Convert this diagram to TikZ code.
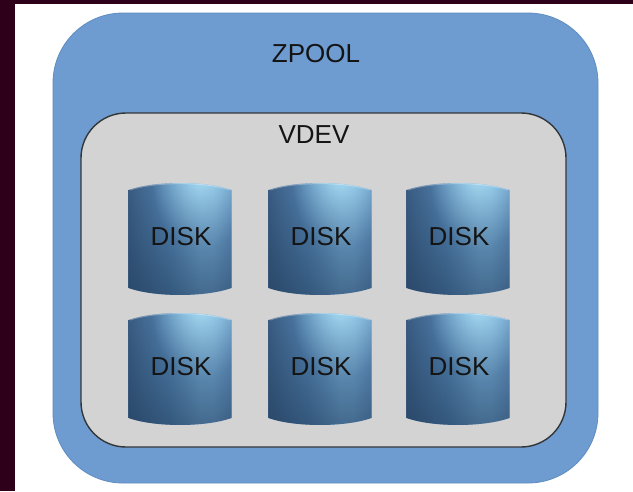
\documentclass[tikz,border=0pt]{standalone}
\usepackage{fontspec}
\setmainfont{Liberation Sans}
\usetikzlibrary{fadings}
\definecolor{framecol}{HTML}{2E0019}
\definecolor{poolblue}{HTML}{6E9CD0}
\definecolor{pooledge}{HTML}{5F8DC2}
\definecolor{vdevgray}{HTML}{D3D3D3}
\definecolor{vdevedge}{HTML}{333638}
\definecolor{dk1}{HTML}{3B5D83}
\definecolor{md1}{HTML}{5282B0}
\definecolor{hl}{HTML}{78AEDA}
\definecolor{md2}{HTML}{6393C2}
\definecolor{glowcol}{HTML}{A8DDF4}
\definecolor{diskbot}{HTML}{1F3A58}
\definecolor{txt}{HTML}{141414}
\pgfdeclarehorizontalshading{diskh}{100bp}{color(0bp)=(dk1); color(25bp)=(dk1); color(44bp)=(md1); color(60bp)=(hl); color(66bp)=(hl); color(75bp)=(md2); color(100bp)=(md2)}
\tikzfading[name=diskfade, top color=transparent!100, middle color=transparent!85, bottom color=transparent!0]
\tikzfading[name=glowfade, inner color=transparent!0, outer color=transparent!100]
\tikzset{
  pool/.style={draw=pooledge, line width=0.8pt, fill=poolblue, rounded corners=70pt, minimum width=545pt, minimum height=470pt, inner sep=0pt},
  vdevbox/.style={draw=vdevedge, line width=1.4pt, fill=vdevgray, rounded corners=45pt, minimum width=485pt, minimum height=334pt, inner sep=0pt},
  lbl/.style={text=txt, font=\fontsize{26}{30}\selectfont, inner sep=0pt},
}
\newcommand\diskpath{(-51.5,-49) .. controls (-25,-58.3) and (25,-58.3) .. (51.5,-49) -- (51.5,49) .. controls (25,58.3) and (-25,58.3) .. (-51.5,49) -- cycle}
\begin{document}
\begin{tikzpicture}[x=1pt,y=-1pt]
\useasboundingbox (0,0) rectangle (633,491);
\fill[framecol] (0,0) rectangle (633,491);
\fill[white] (15,4) rectangle (633,491);
\node[pool] (zpool) at (325.5,248) {};
\node[vdevbox] (vdev) at (323.5,280) {};
\node[lbl] (zlabel) at (316,54) {ZPOOL};
\node[lbl] (vlabel) at (314,134.5) {VDEV};
\foreach \cx/\cy/\nm in {180/239/d1, 320/239/d2, 458/239/d3, 180/369/d4, 320/369/d5, 458/369/d6}{
  \begin{scope}[shift={(\cx,\cy)}]
    \shade[shading=diskh] \diskpath;
    \begin{scope}
      \clip \diskpath;
      \fill[glowcol, path fading=glowfade, fill opacity=0.9] (20,-58) ellipse (48 and 70);
    \end{scope}
    \fill[diskbot, path fading=diskfade, fill opacity=0.6] \diskpath;
    \draw[white, opacity=0.3, line width=1pt] (-50,-49) .. controls (-25,-57.5) and (25,-57.5) .. (50,-49);
  \end{scope}
  \node[lbl] (\nm) at (\cx+1,\cy-2) {DISK};
}
\end{tikzpicture}
\end{document}
